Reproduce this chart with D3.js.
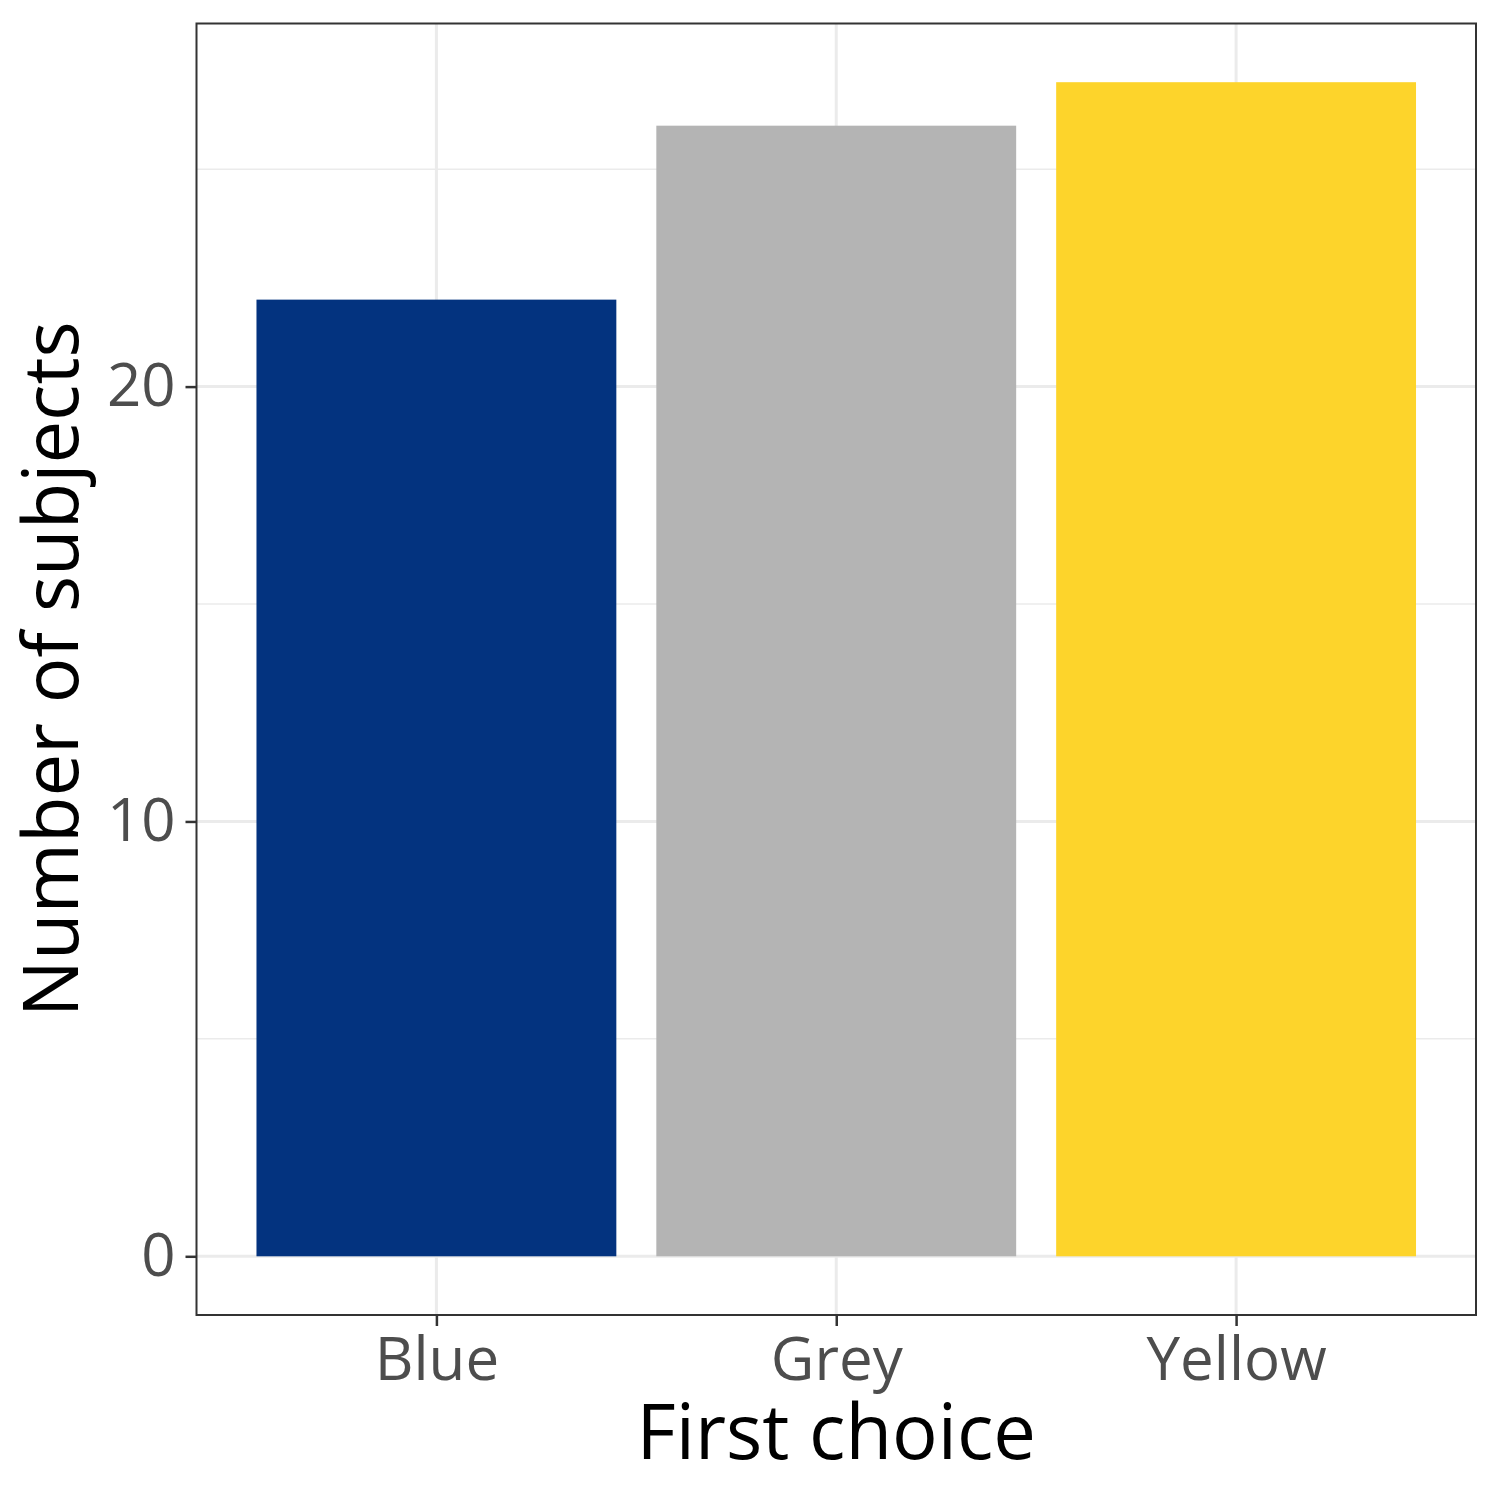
<!DOCTYPE html>
<html>
<head>
<meta charset="utf-8">
<script src="https://cdn.jsdelivr.net/npm/d3@7"></script>
<style>
  body { margin: 0; background: #fff; }
  text { font-family: "Open Sans", "Noto Sans", sans-serif; }
</style>
</head>
<body>
<div id="plot-area"></div>
<script>
// Bar chart: number of subjects by first colour choice

const categories = ["Blue", "Grey", "Yellow"];
const counts = [22, 26, 27];
const barColors = ["#03337F", "#B4B4B4", "#FDD42B"];
const yTicks = [0, 10, 20];
const yMinorTicks = [5, 15, 25];

const svg = d3.select("#plot-area").
append("svg").
attr("width", 1500).
attr("height", 1500);

renderPlot(svg);

function renderPlot(svg) {
  // panel edges
  const p_l = 196.5, p_r = 1476, p_t = 23.5, p_b = 1315;

  // discrete x: expand 0.6 units each side, like ggplot
  const n = categories.length;
  const xIdx = d3.scaleLinear().
  domain([1 - 0.6, n + 0.6]).
  range([p_l, p_r]);
  const unit = xIdx(2) - xIdx(1);

  const yMax = d3.max(counts);
  const yScale = d3.scaleLinear().
  domain([-0.05 * yMax, yMax * 1.05]).
  range([p_b, p_t]);

  const grid = svg.append("g").attr("class", "grid");

  // minor grid
  grid.selectAll("line.minor").
  data(yMinorTicks).
  enter().
  append("line").
  attr("class", "minor").
  attr("x1", p_l).attr("x2", p_r).
  attr("y1", d => yScale(d)).attr("y2", d => yScale(d)).
  attr("stroke", "#EBEBEB").
  attr("stroke-width", 1.5);

  // major grid
  grid.selectAll("line.major-y").
  data(yTicks).
  enter().
  append("line").
  attr("class", "major-y").
  attr("x1", p_l).attr("x2", p_r).
  attr("y1", d => yScale(d)).attr("y2", d => yScale(d)).
  attr("stroke", "#EBEBEB").
  attr("stroke-width", 3);

  grid.selectAll("line.major-x").
  data(categories).
  enter().
  append("line").
  attr("class", "major-x").
  attr("y1", p_t).attr("y2", p_b).
  attr("x1", (d, i) => xIdx(i + 1)).attr("x2", (d, i) => xIdx(i + 1)).
  attr("stroke", "#EBEBEB").
  attr("stroke-width", 3);

  // bars
  const bar_w = unit * 0.9;
  svg.selectAll("rect.bar").
  data(counts).
  enter().
  append("rect").
  attr("class", "bar").
  attr("x", (d, i) => xIdx(i + 1) - bar_w / 2).
  attr("width", bar_w).
  attr("y", d => yScale(d)).
  attr("height", d => yScale(0) - yScale(d)).
  attr("fill", (d, i) => barColors[i]);

  // panel border
  svg.append("rect").
  attr("x", p_l).attr("y", p_t).
  attr("width", p_r - p_l).attr("height", p_b - p_t).
  attr("fill", "none").
  attr("stroke", "#333333").
  attr("stroke-width", 2);

  // axes
  const xBand = d3.scaleOrdinal().
  domain(categories).
  range(categories.map((d, i) => xIdx(i + 1)));

  const xAxis = svg.append("g").
  attr("transform", `translate(0 ${p_b})`).
  call(d3.axisBottom(xBand).tickSize(11).tickPadding(11));
  xAxis.select(".domain").remove();

  const yAxis = svg.append("g").
  attr("transform", `translate(${p_l} 0)`).
  call(d3.axisLeft(yScale).tickValues(yTicks).tickSize(11).tickPadding(10));
  yAxis.select(".domain").remove();

  svg.selectAll(".tick line").
  attr("stroke", "#333333").
  attr("stroke-width", 2.5);
  svg.selectAll(".tick text").
  attr("fill", "#4D4D4D").
  style("font-size", "60px").
  style("font-family", "'Open Sans', 'Noto Sans', sans-serif");

  // axis titles
  svg.append("text").
  attr("x", (p_l + p_r) / 2).
  attr("y", 1459).
  attr("text-anchor", "middle").
  attr("fill", "#000").
  style("font-size", "76px").
  text("First choice");

  svg.append("text").
  attr("transform", `translate(78 ${(p_t + p_b) / 2}) rotate(-90)`).
  attr("text-anchor", "middle").
  attr("fill", "#000").
  style("font-size", "76px").
  text("Number of subjects");
}
</script>
</body>
</html>
